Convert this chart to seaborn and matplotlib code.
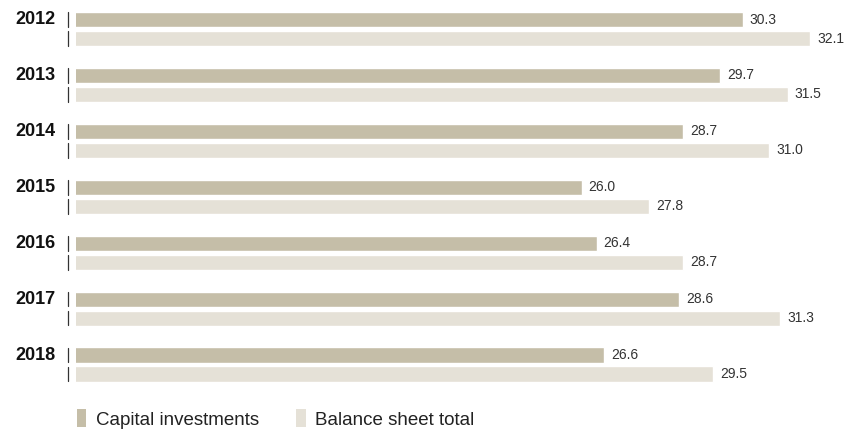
import matplotlib
matplotlib.use("Agg")
import matplotlib.pyplot as plt
import matplotlib.transforms as mtransforms
from matplotlib.patches import Patch
import seaborn as sns
import pandas as pd

years = ["2012", "2013", "2014", "2015", "2016", "2017", "2018"]
capital_investments = [30.3, 29.7, 28.7, 26.0, 26.4, 28.6, 26.6]
balance_sheet_total = [32.1, 31.5, 31.0, 27.8, 28.7, 31.3, 29.5]
series_names = ["Capital investments", "Balance sheet total"]
colors = ["#c5bea8", "#e5e1d7"]

df = pd.DataFrame({
    "year": years * 2,
    "series": [series_names[0]] * len(years) + [series_names[1]] * len(years),
    "value": capital_investments + balance_sheet_total,
})

sns.set_theme(style="white")
plt.rcParams["font.family"] = ["Liberation Sans", "DejaVu Sans"]

W, H = 844, 430
fig = plt.figure(figsize=(W / 100, H / 100), dpi=100)
ax = fig.add_axes([76 / W, 38 / H, (W - 76) / W, 392 / H])

sns.barplot(data=df, y="year", x="value", hue="series", order=years,
            hue_order=series_names, palette=colors, orient="h",
            width=0.68, gap=0.2, saturation=1, legend=False, ax=ax)

for cont in ax.containers:
    ax.bar_label(cont, fmt="%.1f", padding=5, fontsize=10, color="#333333")

ax.set_xlim(12.5, 33.0)
ax.set_ylim(6.49, -0.519)
ax.set_xlabel("")
ax.set_ylabel("")
ax.set_xticks([])
ax.set_yticks([])
for s in ax.spines.values():
    s.set_visible(False)

# year labels and small tick marks at the left of each bar
trans = mtransforms.blended_transform_factory(fig.transFigure, ax.transData)
for i, y in enumerate(years):
    ax.text(55 / W, i - 0.17, y, transform=trans, ha="right", va="center",
            fontsize=13, fontweight="bold", color="#111111")
    for off in (-0.17, 0.17):
        ax.plot([68 / W, 68 / W], [i + off - 0.13, i + off + 0.13],
                transform=trans, color="#333333", lw=0.9, clip_on=False)

# legend
handles = [Patch(facecolor=c, edgecolor="none") for c in colors]
fig.legend(handles, series_names, loc="center left",
           bbox_to_anchor=(77 / W, 1 - 419 / H), ncol=2, frameon=False,
           fontsize=13.5, handlelength=0.5, handleheight=1.05,
           handletextpad=0.5, columnspacing=2.0, borderaxespad=0,
           borderpad=0, labelcolor="#222222")

fig.savefig("out.png", dpi=100)
